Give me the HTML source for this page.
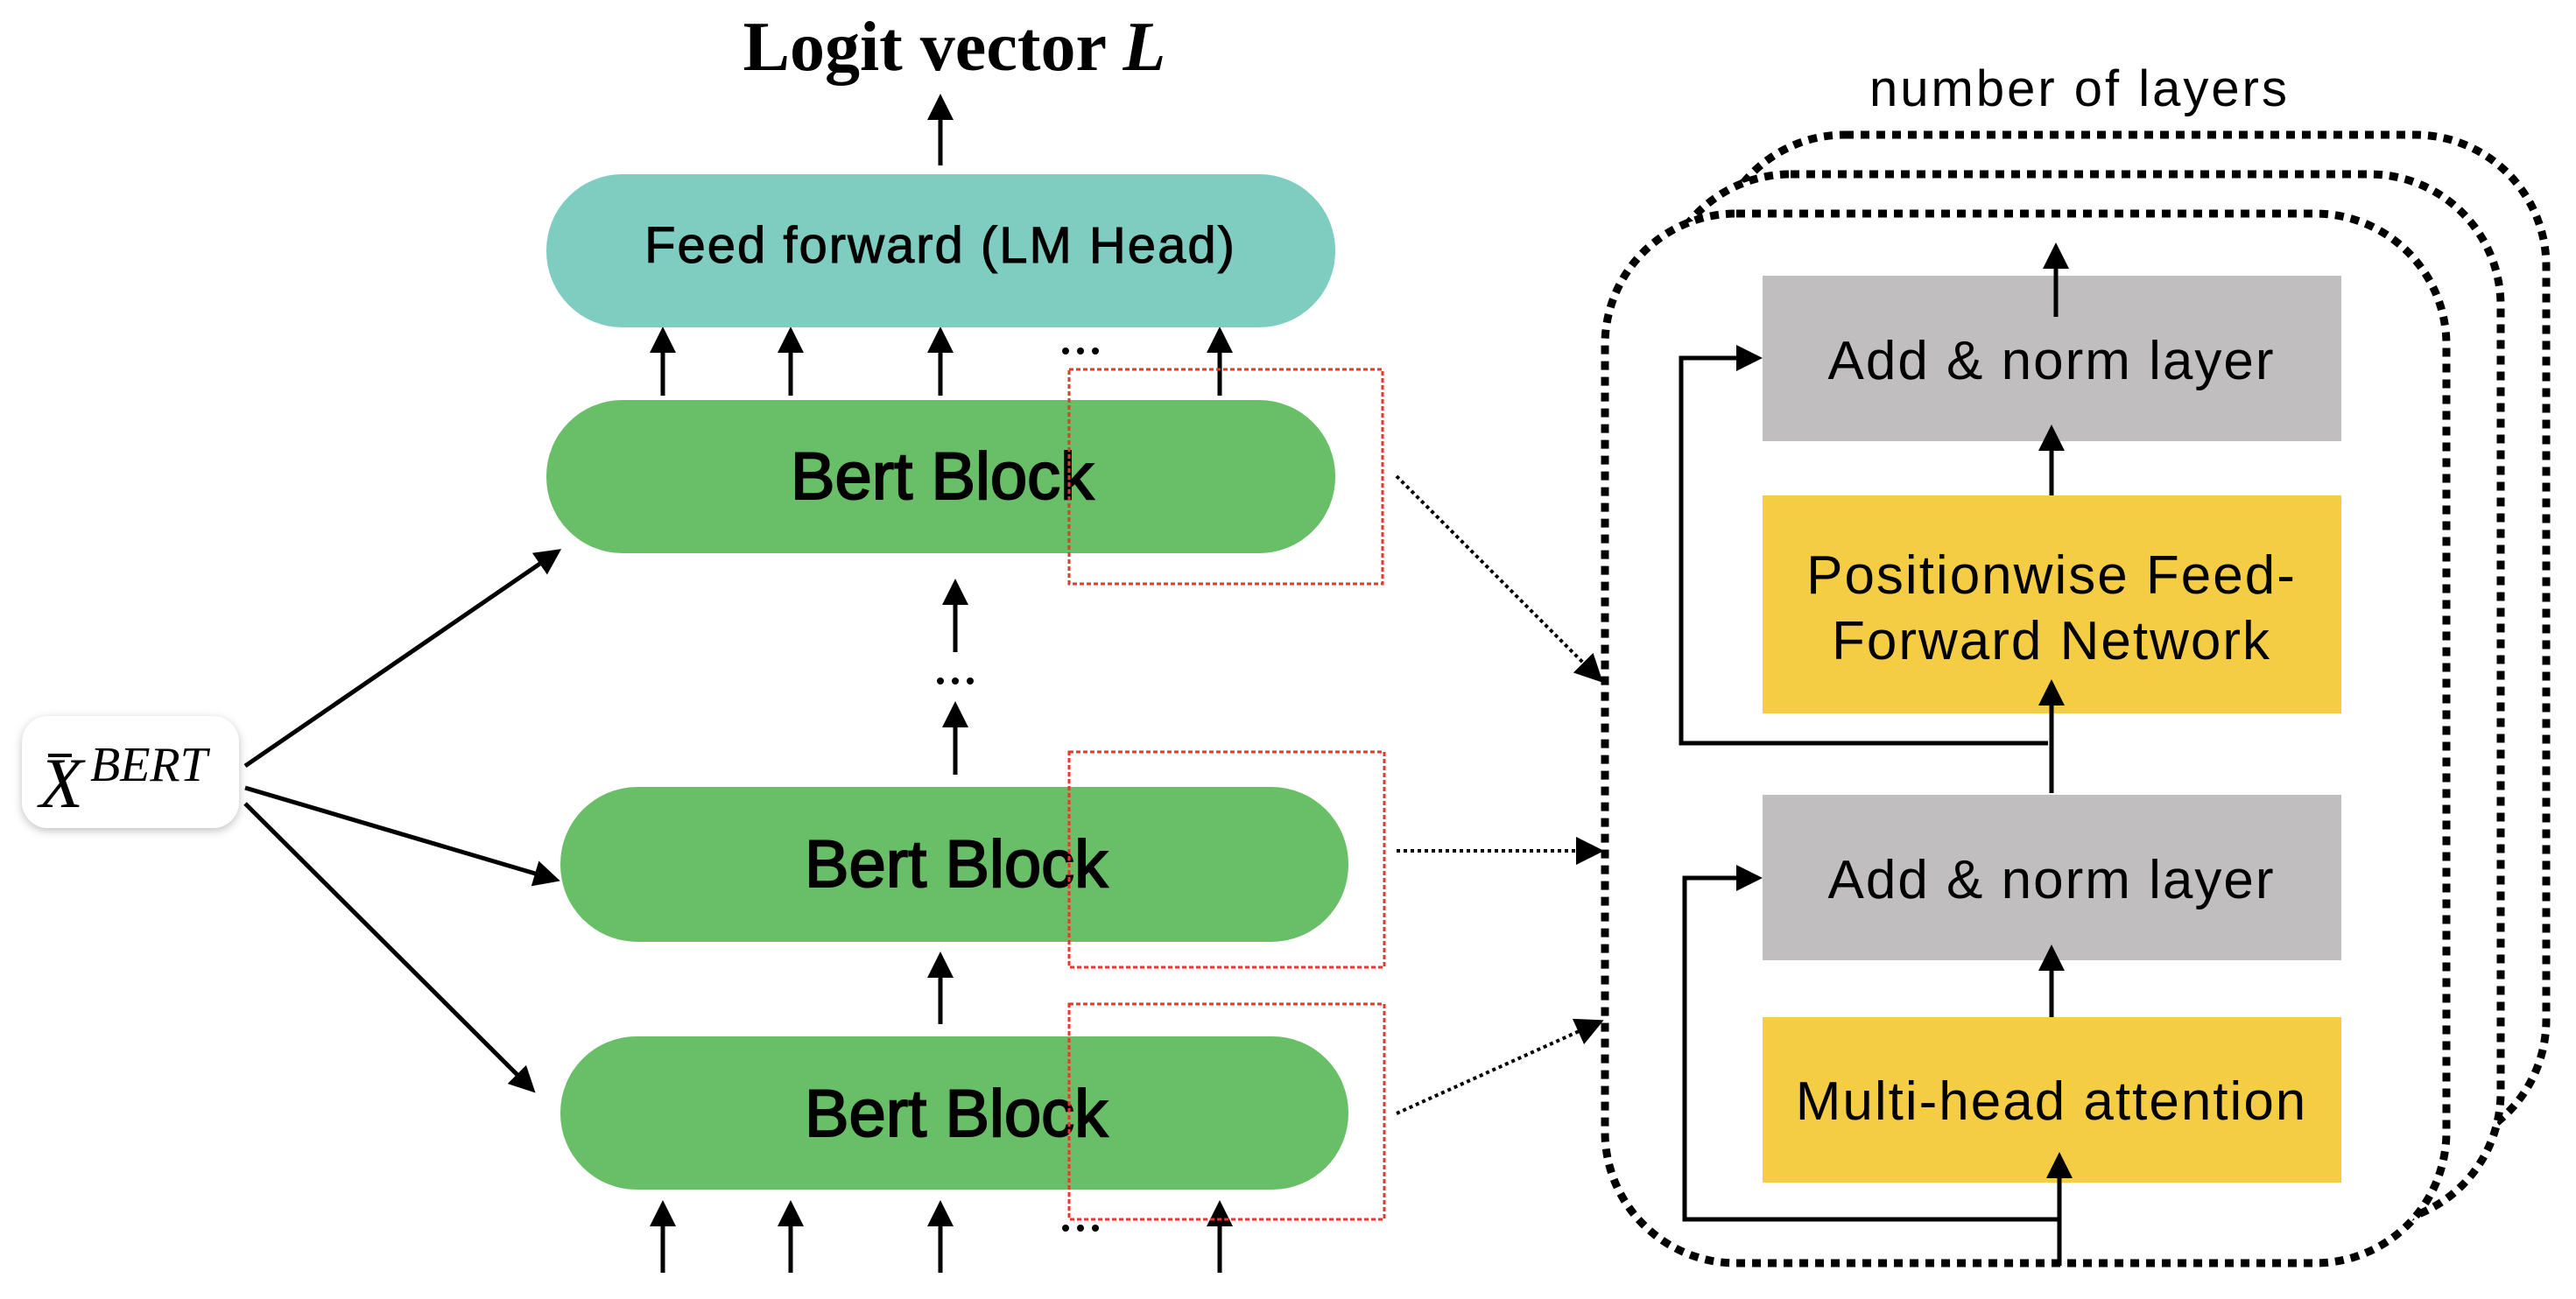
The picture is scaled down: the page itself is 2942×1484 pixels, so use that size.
<!DOCTYPE html>
<html><head><meta charset="utf-8"><style>html,body{margin:0;padding:0;background:#fff}svg{display:block}</style></head>
<body>
<svg width="2942" height="1484" viewBox="0 0 2942 1484" xmlns="http://www.w3.org/2000/svg">
<defs>
<marker id="ah" markerWidth="6" markerHeight="6" refX="5" refY="3" orient="auto" markerUnits="strokeWidth"><path d="M0,0 L6,3 L0,6 z" fill="#000"/></marker>
<marker id="ahs" markerWidth="8" markerHeight="8" refX="7" refY="4" orient="auto" markerUnits="strokeWidth"><path d="M0,0 L8,4 L0,8 z" fill="#000"/></marker>
<filter id="sh" x="-20%" y="-20%" width="140%" height="140%"><feDropShadow dx="0" dy="3" stdDeviation="5" flood-color="#000" flood-opacity="0.25"/></filter>
</defs>
<g font-family="Liberation Sans, sans-serif">
<text x="1090" y="80" font-family="Liberation Serif, serif" font-weight="bold" font-size="80" text-anchor="middle">Logit vector <tspan font-style="italic">L</tspan></text>
<g stroke="#000" stroke-width="5" fill="none" marker-end="url(#ah)">
<line x1="1074" y1="189" x2="1074" y2="112"/>
<line x1="757" y1="452" x2="757" y2="378"/>
<line x1="903" y1="452" x2="903" y2="378"/>
<line x1="1074" y1="452" x2="1074" y2="378"/>
<line x1="1393" y1="452" x2="1393" y2="378"/>
<line x1="1091" y1="745" x2="1091" y2="666"/>
<line x1="1091" y1="885" x2="1091" y2="806"/>
<line x1="1074" y1="1170" x2="1074" y2="1092"/>
<line x1="757" y1="1454" x2="757" y2="1376"/>
<line x1="903" y1="1454" x2="903" y2="1376"/>
<line x1="1074" y1="1454" x2="1074" y2="1376"/>
<line x1="1393" y1="1454" x2="1393" y2="1376"/>
<line x1="280" y1="875" x2="637" y2="630"/>
<line x1="280" y1="900" x2="635" y2="1005"/>
<line x1="280" y1="918" x2="608" y2="1245"/>
</g>
<g fill="#000"><circle cx="1217" cy="401" r="4"/><circle cx="1234" cy="401" r="4"/><circle cx="1251" cy="401" r="4"/>
<circle cx="1074" cy="778" r="4"/><circle cx="1091" cy="778" r="4"/><circle cx="1108" cy="778" r="4"/>
<circle cx="1217" cy="1403" r="4"/><circle cx="1234" cy="1403" r="4"/><circle cx="1251" cy="1403" r="4"/></g>
<rect x="624" y="199" width="901" height="175" rx="87" fill="#7fcdc0"/>
<text x="1074" y="300" font-size="58" letter-spacing="2" text-anchor="middle" stroke="#000" stroke-width="1">Feed forward (LM Head)</text>
<g font-size="76" text-anchor="middle" stroke="#000" stroke-width="2">
<rect x="624" y="457" width="901" height="175" rx="87" fill="#68bf67" stroke="none"/>
<text x="1076" y="570">Bert Block</text>
<rect x="640" y="899" width="900" height="177" rx="88" fill="#68bf67" stroke="none"/>
<text x="1092" y="1013">Bert Block</text>
<rect x="640" y="1184" width="900" height="175" rx="87" fill="#68bf67" stroke="none"/>
<text x="1092" y="1298">Bert Block</text>
</g>
<g fill="none" stroke="#e8362a" stroke-width="3" stroke-dasharray="5 3">
<rect x="1221" y="422" width="358" height="245"/>
<rect x="1221" y="859" width="360" height="246"/>
<rect x="1221" y="1147" width="360" height="246"/>
</g>
<rect x="25" y="818" width="248" height="128" rx="30" fill="#fff" filter="url(#sh)"/>
<text x="45" y="922" font-family="Liberation Serif, serif" font-style="italic" font-size="82">X</text>
<line x1="55" y1="863" x2="82" y2="863" stroke="#000" stroke-width="4"/>
<text x="103" y="892" font-family="Liberation Serif, serif" font-style="italic" font-size="56">BERT</text>
<g stroke="#000" stroke-width="4" stroke-dasharray="4 4" fill="none" marker-end="url(#ahs)">
<line x1="1595" y1="544" x2="1828" y2="777"/>
<line x1="1595" y1="972" x2="1828" y2="972"/>
<line x1="1595" y1="1272" x2="1828" y2="1167"/>
</g>
<text x="2375" y="121" font-size="58" letter-spacing="3" text-anchor="middle">number of layers</text>
<g stroke="#000" stroke-width="9" stroke-dasharray="10 8" fill="#fff">
<rect x="1957" y="154" width="951" height="1161" rx="150"/>
<rect x="1895" y="199" width="961" height="1199" rx="150"/>
<rect x="1833" y="244" width="961" height="1199" rx="150"/>
</g>
<g font-size="62" letter-spacing="2" text-anchor="middle">
<rect x="2013" y="315" width="661" height="189" fill="#c0bebf"/>
<text x="2343" y="433">Add &amp; norm layer</text>
<rect x="2013" y="566" width="661" height="249" fill="#f5cd44"/>
<text x="2343" y="678">Positionwise Feed-</text>
<text x="2343" y="753">Forward Network</text>
<rect x="2013" y="908" width="661" height="189" fill="#c0bebf"/>
<text x="2343" y="1026">Add &amp; norm layer</text>
<rect x="2013" y="1162" width="661" height="189" fill="#f5cd44"/>
<text x="2343" y="1279">Multi-head attention</text>
</g>
<g stroke="#000" stroke-width="5" fill="none" marker-end="url(#ah)">
<line x1="2348" y1="362" x2="2348" y2="282"/>
<line x1="2343" y1="566" x2="2343" y2="490"/>
<line x1="2343" y1="906" x2="2343" y2="781"/>
<line x1="2343" y1="1162" x2="2343" y2="1084"/>
<line x1="2352" y1="1446" x2="2352" y2="1321"/>
<polyline points="2339,849 1920,849 1920,409 2008,409"/>
<polyline points="2350,1393 1924,1393 1924,1003 2008,1003"/>
</g>
</g>
</svg>
</body></html>
